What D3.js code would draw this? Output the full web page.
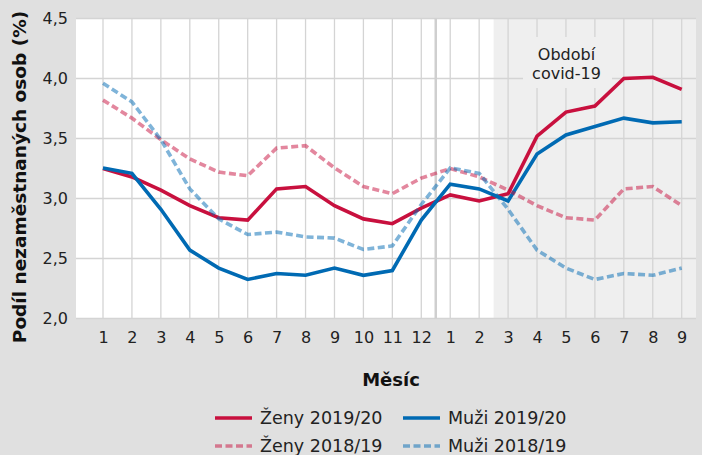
<!DOCTYPE html>
<html><head><meta charset="utf-8">
<script src="https://cdn.jsdelivr.net/npm/d3@7"></script>
<style>
html,body{margin:0;padding:0;background:#e0e0e0;}
svg{display:block;font-family:"DejaVu Sans",sans-serif;}
</style></head>
<body>
<svg id="c" width="702" height="455"></svg>
<script>
const monthLabels = ["1","2","3","4","5","6","7","8","9","10","11","12","1","2","3","4","5","6","7","8","9"];
const zeny1920 = [3.25,3.18,3.07,2.94,2.84,2.82,3.08,3.10,2.94,2.83,2.79,2.92,3.03,2.98,3.04,3.52,3.72,3.77,4.00,4.01,3.91];
const muzi1920 = [3.255,3.21,2.91,2.57,2.42,2.325,2.375,2.36,2.42,2.36,2.40,2.82,3.12,3.08,2.98,3.37,3.53,3.60,3.67,3.63,3.64];
const zeny1819 = [3.82,3.67,3.49,3.33,3.22,3.19,3.42,3.44,3.255,3.10,3.04,3.17,3.25,3.18,3.07,2.94,2.84,2.82,3.08,3.10,2.94];
const muzi1819 = [3.96,3.805,3.49,3.08,2.83,2.70,2.72,2.68,2.67,2.575,2.605,2.95,3.255,3.21,2.91,2.57,2.42,2.325,2.375,2.36,2.42];
const yTicks = [2.0,2.5,3.0,3.5,4.0,4.5];
const seriesNames = ["Ženy 2019/20","Muži 2019/20","Ženy 2018/19","Muži 2018/19"];

const RED = "#c8103e", BLUE = "#006ab3";
const DASH = "7,3.5";
const svg = d3.select("#c");
const L = 76, R = 696, T = 18.5, B = 318.5;
const x = d3.scaleLinear().domain([-0.933, 20.494]).range([L, R]);
const y = d3.scaleLinear().domain([2, 4.5]).range([B, T]);
const idx = d3.range(monthLabels.length);

// plot background
svg.append("rect").attr("x", L).attr("y", T).attr("width", R - L).attr("height", B - T).attr("fill", "#fff");
svg.append("rect").attr("x", x(13.5)).attr("y", T).attr("width", R - x(13.5)).attr("height", B - T).attr("fill", "#efefef");

// grid
const grid = svg.append("g").attr("stroke", "#d4d4d4").attr("stroke-width", 1.3);
grid.selectAll(".h").data(yTicks).join("line")
  .attr("x1", L).attr("x2", R).attr("y1", d => y(d)).attr("y2", d => y(d));
grid.selectAll(".v").data(idx).join("line")
  .attr("x1", d => x(d)).attr("x2", d => x(d)).attr("y1", T).attr("y2", B);
svg.append("line").attr("x1", x(11.5)).attr("x2", x(11.5)).attr("y1", T).attr("y2", B)
  .attr("stroke", "#cfcfcf").attr("stroke-width", 2.5);

// covid label
const lx = 566.5;
svg.append("rect").attr("x", 523).attr("y", 37).attr("width", 89).attr("height", 51).attr("fill", "#efefef");
const lt = svg.append("text").attr("text-anchor", "middle").attr("font-size", 16).attr("fill", "#222");
lt.append("tspan").attr("x", lx).attr("y", 60).text("Období");
lt.append("tspan").attr("x", lx).attr("y", 79).text("covid-19");

// axes
const yAxis = d3.axisLeft(y).tickValues(yTicks).tickSize(0).tickPadding(8)
  .tickFormat(d => d3.format(".1f")(d).replace(".", ","));
const ga = svg.append("g").attr("transform", `translate(${L},0)`).call(yAxis);
ga.select(".domain").remove();
ga.selectAll("text").attr("font-size", 16).attr("fill", "#222").attr("font-family", "DejaVu Sans");

const xAxis = d3.axisBottom(x).tickValues(idx).tickSize(0).tickPadding(13)
  .tickFormat(i => monthLabels[i]);
const gx = svg.append("g").attr("transform", `translate(0,${B})`).call(xAxis);
gx.select(".domain").remove();
gx.selectAll("text").attr("font-size", 16).attr("fill", "#222").attr("font-family", "DejaVu Sans");

// lines
const line = d3.line().x((d, i) => x(i)).y(d => y(d));
const drawLine = (data, color, dashed) => svg.append("path").datum(data)
  .attr("d", line).attr("fill", "none").attr("stroke", color).attr("stroke-width", 3.6)
  .attr("stroke-opacity", dashed ? 0.5 : 1)
  .attr("stroke-dasharray", dashed ? DASH : null);
drawLine(zeny1920, RED, false);
drawLine(muzi1920, BLUE, false);
drawLine(zeny1819, RED, true);
drawLine(muzi1819, BLUE, true);

// titles
svg.append("text").attr("x", 391).attr("y", 386).attr("text-anchor", "middle")
  .attr("font-size", 18).attr("font-weight", "bold").attr("fill", "#111").text("Měsíc");
svg.append("text").attr("transform", "translate(26,177) rotate(-90)").attr("text-anchor", "middle")
  .attr("font-size", 18.5).attr("font-weight", "bold").attr("fill", "#111").text("Podíl nezaměstnaných osob (%)");

// legend
const legItems = [
  {name: seriesNames[0], color: RED, dashed: false, x: 215, y: 418},
  {name: seriesNames[1], color: BLUE, dashed: false, x: 403, y: 418},
  {name: seriesNames[2], color: RED, dashed: true, x: 215, y: 446},
  {name: seriesNames[3], color: BLUE, dashed: true, x: 403, y: 446}
];
const lg = svg.append("g").selectAll("g").data(legItems).join("g");
lg.append("line").attr("x1", d => d.x).attr("x2", d => d.x + 37).attr("y1", d => d.y).attr("y2", d => d.y)
  .attr("stroke", d => d.color).attr("stroke-width", 3.6)
  .attr("stroke-opacity", d => d.dashed ? 0.5 : 1)
  .attr("stroke-dasharray", d => d.dashed ? DASH : null);
lg.append("text").attr("x", d => d.x + 45).attr("y", d => d.y + 6).attr("font-size", 17.5).attr("fill", "#222")
  .text(d => d.name);
</script>
</body></html>
